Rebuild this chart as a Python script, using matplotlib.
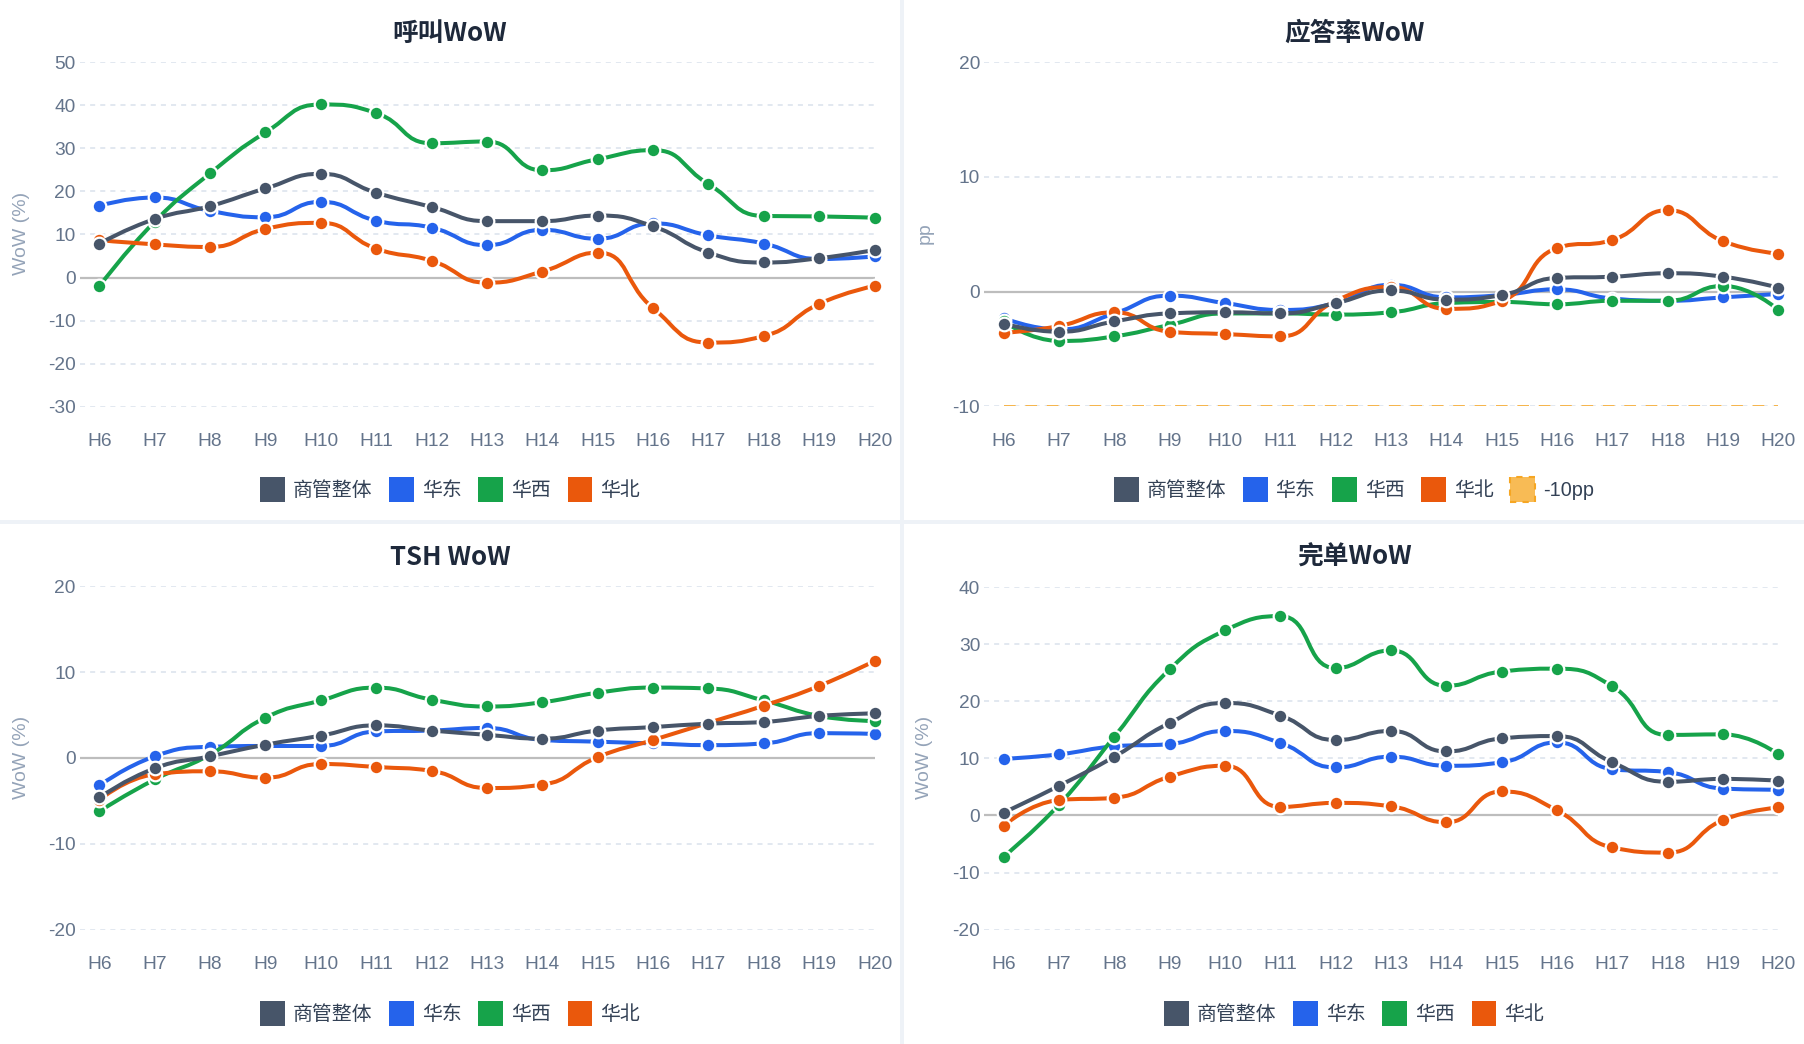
import matplotlib
matplotlib.use('Agg')
import matplotlib.pyplot as plt
from matplotlib.path import Path
from matplotlib.patches import PathPatch, Patch, Rectangle
import numpy as np

# ---------------- data ----------------
hours = ['H6', 'H7', 'H8', 'H9', 'H10', 'H11', 'H12', 'H13', 'H14', 'H15',
         'H16', 'H17', 'H18', 'H19', 'H20']
series_names = ['商管整体', '华东', '华西', '华北']
series_colors = ['#475569', '#2563eb', '#16a34a', '#ea580c']

# 呼叫WoW (%)
call_overall = [7.9, 13.6, 16.6, 20.7, 24.1, 19.7, 16.4, 13.1, 13.1, 14.4, 11.9, 5.8, 3.5, 4.5, 6.4]
call_east = [16.7, 18.6, 15.5, 14.0, 17.6, 13.2, 11.6, 7.5, 11.1, 9.0, 12.6, 9.8, 7.9, 4.3, 4.9]
call_west = [-2.0, 13.0, 24.2, 33.7, 40.2, 38.2, 31.2, 31.6, 24.9, 27.5, 29.6, 21.7, 14.3, 14.2, 13.9]
call_north = [8.7, 7.7, 7.1, 11.3, 12.7, 6.7, 3.9, -1.2, 1.4, 5.8, -7.1, -15.1, -13.6, -6.1, -1.9]

# 应答率WoW (pp)
ans_overall = [-2.8, -3.5, -2.6, -1.9, -1.8, -1.9, -1.0, 0.1, -0.7, -0.3, 1.2, 1.3, 1.6, 1.3, 0.35]
ans_east = [-2.3, -3.3, -1.9, -0.35, -1.0, -1.6, -1.0, 0.6, -0.5, -0.3, 0.2, -0.6, -0.8, -0.5, -0.2]
ans_west = [-2.6, -4.3, -3.9, -2.9, -1.9, -1.9, -2.0, -1.8, -1.0, -0.9, -1.1, -0.8, -0.8, 0.5, -1.6]
ans_north = [-3.6, -3.0, -1.8, -3.5, -3.7, -3.9, -0.8, 0.4, -1.5, -0.8, 3.8, 4.5, 7.1, 4.4, 3.3]
ans_threshold = -10
ans_threshold_label = '-10pp'

# TSH WoW (%)
tsh_overall = [-4.6, -1.2, 0.2, 1.55, 2.6, 3.8, 3.2, 2.7, 2.25, 3.2, 3.6, 4.0, 4.2, 4.9, 5.2]
tsh_east = [-3.2, 0.2, 1.3, 1.4, 1.4, 3.1, 3.2, 3.5, 2.1, 1.9, 1.7, 1.5, 1.7, 2.9, 2.8]
tsh_west = [-6.2, -2.5, 0.4, 4.7, 6.7, 8.2, 6.8, 6.0, 6.5, 7.6, 8.2, 8.1, 6.7, 4.9, 4.3]
tsh_north = [-4.9, -1.9, -1.55, -2.3, -0.7, -1.05, -1.5, -3.5, -3.1, 0.1, 2.1, 4.1, 6.1, 8.4, 11.3]

# 完单WoW (%)
done_overall = [0.5, 5.2, 10.3, 16.2, 19.7, 17.5, 13.2, 14.8, 11.2, 13.5, 13.9, 9.3, 5.9, 6.4, 6.1]
done_east = [9.9, 10.7, 12.1, 12.5, 14.8, 12.7, 8.4, 10.3, 8.7, 9.3, 12.8, 8.1, 7.6, 4.7, 4.5]
done_west = [-7.2, 1.9, 13.8, 25.6, 32.4, 34.9, 25.8, 28.9, 22.7, 25.2, 25.7, 22.6, 14.1, 14.2, 10.7]
done_north = [-1.8, 2.7, 3.1, 6.8, 8.7, 1.5, 2.2, 1.6, -1.2, 4.2, 0.9, -5.6, -6.5, -0.8, 1.4]

panels = [
    dict(title='呼叫WoW', ylabel='WoW (%)', ylim=(-30, 50), ticks=[-30, -20, -10, 0, 10, 20, 30, 40, 50],
         data=[call_overall, call_east, call_west, call_north], threshold=None),
    dict(title='应答率WoW', ylabel='pp', ylim=(-10, 20), ticks=[-10, 0, 10, 20],
         data=[ans_overall, ans_east, ans_west, ans_north], threshold=ans_threshold),
    dict(title='TSH WoW', ylabel='WoW (%)', ylim=(-20, 20), ticks=[-20, -10, 0, 10, 20],
         data=[tsh_overall, tsh_east, tsh_west, tsh_north], threshold=None),
    dict(title='完单WoW', ylabel='WoW (%)', ylim=(-20, 40), ticks=[-20, -10, 0, 10, 20, 30, 40],
         data=[done_overall, done_east, done_west, done_north], threshold=None),
]

# ---------------- layout ----------------
W, H = 1804, 1044
DPI = 100
fig = plt.figure(figsize=(W / DPI, H / DPI), dpi=DPI)
fig.patch.set_facecolor('#eef2f7')

# panel cards (x0, y0, x1, y1) in pixels from top-left
cards = [(0, 0, 900, 520), (904, 0, 1804, 520), (0, 524, 900, 1044), (904, 524, 1804, 1044)]
# axes boxes (left, top, right, bottom) in pixels
axboxes = [(80, 62.3, 874.6, 406.7), (984.4, 62.3, 1778.3, 406.3),
           (80, 586.3, 874.6, 929.7), (984.4, 587, 1778.3, 929.7)]

for (x0, y0, x1, y1) in cards:
    fig.patches.append(Rectangle((x0 / W, 1 - y1 / H), (x1 - x0) / W, (y1 - y0) / H,
                                 transform=fig.transFigure, facecolor='white',
                                 edgecolor='none', zorder=-10))

TICK_FONT = ['Liberation Sans', 'DejaVu Sans']
CJK_FONT = ['Noto Sans CJK SC', 'DejaVu Sans']
LEG_FONT = ['Liberation Sans', 'Noto Sans CJK SC']


def smooth_path(ax, xs, ys, smooth=0.5):
    """ECharts-style constrained bezier smoothing, computed in pixel space."""
    pts = ax.transData.transform(np.column_stack([xs, ys]))
    n = len(pts)
    verts = [pts[0]]
    codes = [Path.MOVETO]
    cp0 = pts[0].copy()
    for i in range(1, n):
        x, y = pts[i]
        px, py = pts[i - 1]
        if i == n - 1:
            cp1 = np.array([x, y])
            nxt_cp0 = None
        else:
            nx, ny = pts[i + 1]
            vx, vy = nx - px, ny - py
            lp = np.hypot(x - px, y - py)
            ln = np.hypot(nx - x, ny - y)
            ratio = ln / (ln + lp)
            ncx = x + vx * smooth * ratio
            ncy = y + vy * smooth * ratio
            ncx = min(ncx, max(nx, x)); ncy = min(ncy, max(ny, y))
            ncx = max(ncx, min(nx, x)); ncy = max(ncy, min(ny, y))
            vx, vy = ncx - x, ncy - y
            c1x = x - vx * lp / ln
            c1y = y - vy * lp / ln
            c1x = min(c1x, max(px, x)); c1y = min(c1y, max(py, y))
            c1x = max(c1x, min(px, x)); c1y = max(c1y, min(py, y))
            vx, vy = x - c1x, y - c1y
            ncx = x + vx * ln / lp
            ncy = y + vy * ln / lp
            cp1 = np.array([c1x, c1y])
            nxt_cp0 = np.array([ncx, ncy])
        verts += [cp0, cp1, pts[i]]
        codes += [Path.CURVE4] * 3
        cp0 = nxt_cp0
    verts = ax.transData.inverted().transform(np.array(verts))
    return Path(verts, codes)


zorders = [6, 3, 4, 5]  # overall on top

for pi, pnl in enumerate(panels):
    l, t, r, b = axboxes[pi]
    ax = fig.add_axes([l / W, 1 - b / H, (r - l) / W, (b - t) / H])
    ax.set_zorder(2)
    ax.set_facecolor('none')
    ax.set_xlim(-0.35, len(hours) - 1)
    ax.set_ylim(*pnl['ylim'])
    for s in ax.spines.values():
        s.set_visible(False)
    x = np.arange(len(hours))

    # grid lines
    for tv in pnl['ticks']:
        if tv == 0:
            ax.axhline(0, color='#bdbdbd', lw=1.6, zorder=1)
        else:
            ax.axhline(tv, color='#e2e8f0', lw=1.4, ls=(0, (2.6, 2.6)), zorder=1)

    if pnl['threshold'] is not None:
        ax.plot([0, len(hours) - 1], [pnl['threshold']] * 2, color='#f6b44a', lw=1.4,
                ls=(0, (6, 5)), zorder=2)

    ax.set_yticks(pnl['ticks'])
    ax.set_yticklabels([str(v) for v in pnl['ticks']], fontfamily=TICK_FONT, fontsize=13.8,
                       color='#64748b')
    ax.set_xticks(x)
    ax.set_xticklabels(hours, fontfamily=TICK_FONT, fontsize=13.8, color='#64748b')
    ax.tick_params(axis='both', length=0)
    ax.tick_params(axis='x', pad=19)
    ax.tick_params(axis='y', pad=3)

    for si, ys in enumerate(pnl['data']):
        path = smooth_path(ax, x, ys)
        ax.add_patch(PathPatch(path, facecolor='none', edgecolor=series_colors[si], lw=2.9,
                               zorder=zorders[si], clip_on=False, capstyle='round',
                               joinstyle='round'))
        ax.plot(x, ys, 'o', ms=9.8, mfc=series_colors[si], mec='white', mew=1.6,
                zorder=zorders[si] + 0.5, clip_on=False)

    # title
    cx0, cy0, cx1, cy1 = cards[pi]
    ccx = (cx0 + cx1) / 2
    fig.text(ccx / W, 1 - (cy0 + 33.5) / H, pnl['title'], ha='center', va='center',
             fontfamily=CJK_FONT, fontweight='bold', fontsize=18.5, color='#1e293b')
    # y label
    fig.text((cx0 + 21) / W, 1 - (cy0 + 233) / H, pnl['ylabel'], ha='center', va='center',
             rotation=90, fontfamily=TICK_FONT, fontsize=14, color='#94a3b8')

    # legend
    handles = [Patch(facecolor=c, edgecolor='none', label=n) for c, n in zip(series_colors, series_names)]
    if pnl['threshold'] is not None:
        handles.append(Patch(facecolor='#f8bb55', edgecolor='#f6a623', linestyle=(0, (3, 3)),
                             lw=1.5, label=ans_threshold_label))
    leg = fig.legend(handles=handles, loc='center', bbox_to_anchor=(ccx / W, 1 - (cy0 + 489.5) / H),
                     ncol=len(handles), frameon=False, prop={'family': LEG_FONT, 'size': 14.3},
                     handlelength=1.24, handleheight=1.56, handletextpad=0.4, columnspacing=0.85,
                     borderaxespad=0, borderpad=0)
    for txt in leg.get_texts():
        txt.set_color('#334155')

fig.savefig('out.png', dpi=DPI, facecolor=fig.get_facecolor())
